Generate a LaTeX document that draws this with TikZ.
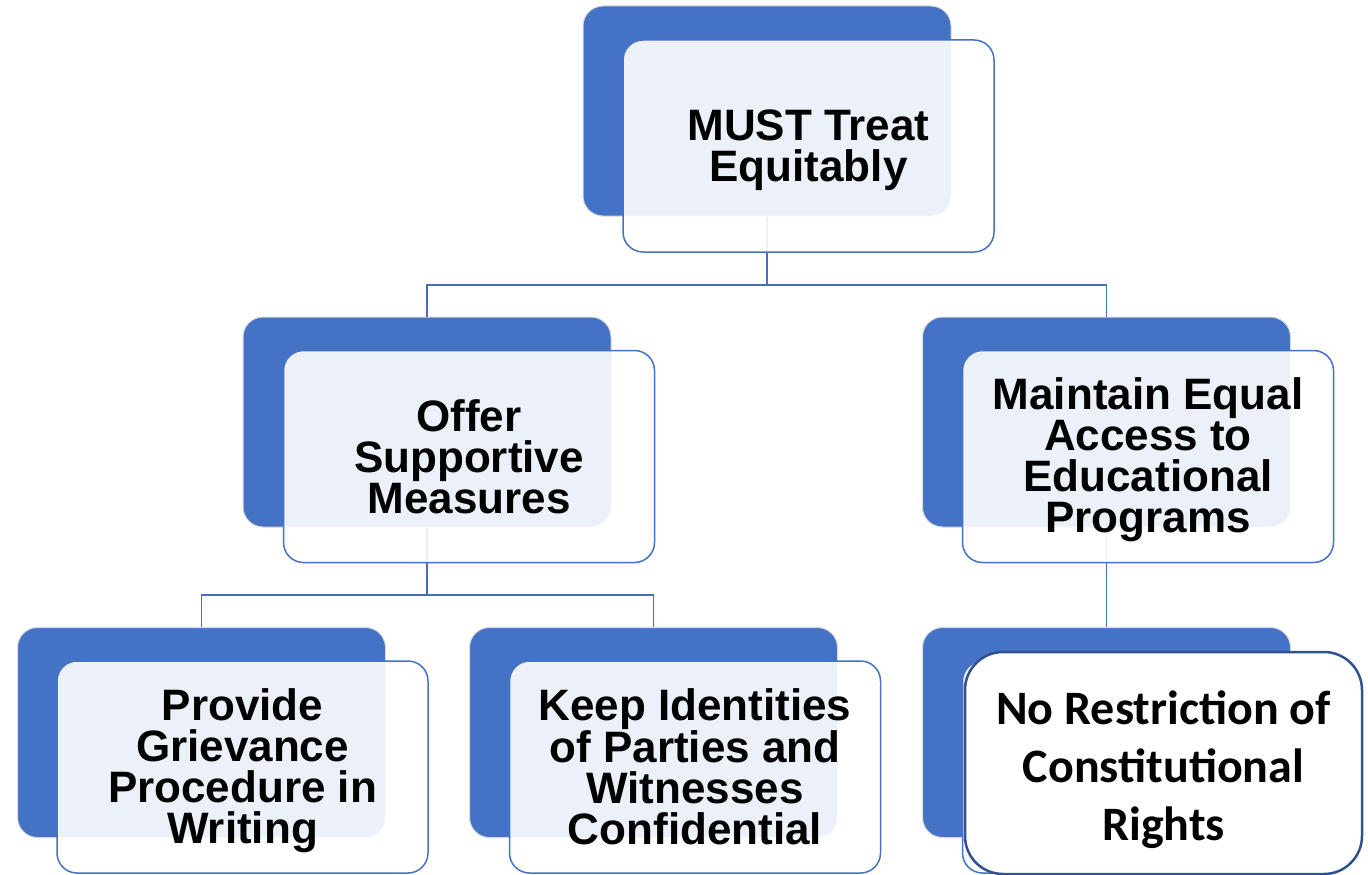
\documentclass[tikz,border=0pt]{standalone}
\usepackage{fontspec}
\setmainfont{Liberation Sans}
\newfontfamily\carlitofont{Carlito}
\definecolor{oblue}{HTML}{4472C4}
\definecolor{dblue}{HTML}{2F528F}
\definecolor{lineblue}{HTML}{4A6FB8}
\tikzset{
  backbox/.style={fill=oblue, draw=white!85!black, line width=1pt, rounded corners=20pt,
    minimum width=368pt, minimum height=210pt, inner sep=0pt},
  frontbox/.style={fill=white, fill opacity=0.9, draw=oblue, line width=1.5pt,
    rounded corners=20pt, minimum width=371pt, minimum height=212pt, inner sep=0pt},
  txt/.style={align=center, inner sep=0pt, font=\bfseries\fontsize{44}{41}\selectfont},
  conn/.style={draw=lineblue, line width=1.6pt},
  whitebox/.style={fill=white, draw=dblue, line width=2.5pt, rounded corners=38pt,
    minimum width=397pt, minimum height=222pt, inner sep=0pt},
  wtxt/.style={align=center, inner sep=0pt, font=\carlitofont\bfseries\fontsize{48}{58}\selectfont},
}
\begin{document}
\begin{tikzpicture}[x=1pt,y=-1pt]
\useasboundingbox (0,0) rectangle (1368,875);
% back boxes
\node[backbox] (tb) at (767,111) {};
\node[backbox] (lb) at (427,422) {};
\node[backbox] (rb) at (1106.5,422) {};
\node[backbox] (b1b) at (201.5,732.5) {};
\node[backbox] (b2b) at (653.5,732.5) {};
\node[backbox] (b3b) at (1106.5,732.5) {};
% connectors
\coordinate (j1) at (767,285);
\coordinate (j2) at (427,595);
\draw[conn] (tb.south) -- (j1);
\draw[conn] (lb.north) |- (j1) -| (rb.north);
\draw[conn] (lb.south) -- (j2);
\draw[conn] (b1b.north) |- (j2) -| (b2b.north);
\draw[conn] (rb.south) -- (b3b.north);
% front boxes
\node[frontbox] (tf) at (808.5,146) {};
\node[frontbox] (lf) at (469,456.5) {};
\node[frontbox] (rf) at (1148,456.5) {};
\node[frontbox] (b1f) at (242.5,767) {};
\node[frontbox] (b2f) at (695,767) {};
\node[frontbox] (b3f) at (1148,767) {};
\node[whitebox] (b3w) at (1163.5,763) {};
% texts
\node[txt] (tft) at ([yshift=-4pt]tf.center) {MUST Treat\\Equitably};
\node[txt] (lft) at (lf.center) {Offer\\Supportive\\Measures};
\node[txt] (rft) at ([yshift=-3.5pt]rf.center) {Maintain Equal\\Access to\\Educational\\Programs};
\node[txt] (b1ft) at ([yshift=-4pt]b1f.center) {Provide\\Grievance\\Procedure in\\Writing};
\node[txt] (b2ft) at (b2f.center) {Keep Identities\\of Parties and\\Witnesses\\Confidential};
\node[wtxt] (b3wt) at ([yshift=-7pt]b3w.center) {No Restriction of\\Constitutional\\Rights};
\end{tikzpicture}
\end{document}
